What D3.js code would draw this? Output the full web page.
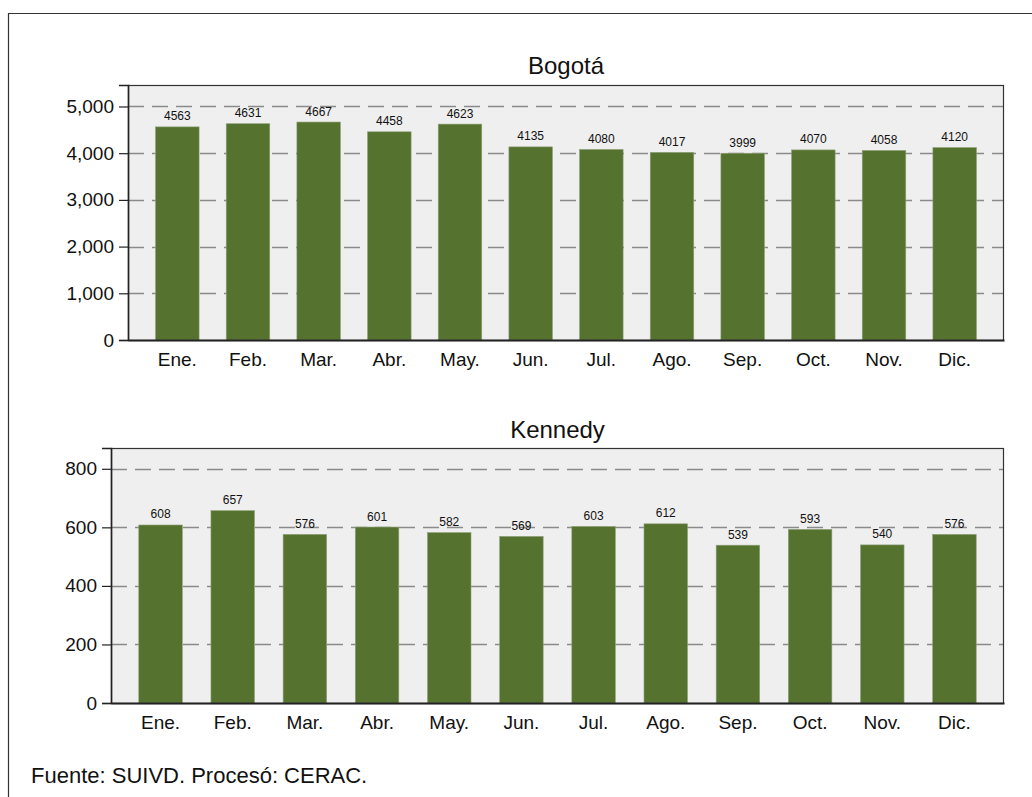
<!DOCTYPE html>
<html>
<head>
<meta charset="utf-8">
<script src="https://cdn.jsdelivr.net/npm/d3@7"></script>
<style>
  html, body { margin: 0; padding: 0; background: #fff; }
  svg { display: block; font-family: Arial, "Liberation Sans", sans-serif; }
</style>
</head>
<body>
<svg id="chart" width="1032" height="797"></svg>
<script>
// Monthly counts, Bogotá and Kennedy
const months = ["Ene.", "Feb.", "Mar.", "Abr.", "May.", "Jun.", "Jul.", "Ago.", "Sep.", "Oct.", "Nov.", "Dic."];
const bogotaValues = [4563, 4631, 4667, 4458, 4623, 4135, 4080, 4017, 3999, 4070, 4058, 4120];
const kennedyValues = [608, 657, 576, 601, 582, 569, 603, 612, 539, 593, 540, 576];
const bogotaTicks = [0, 1000, 2000, 3000, 4000, 5000];
const kennedyTicks = [0, 200, 400, 600, 800];
const titles = ["Bogotá", "Kennedy"];
const sourceNote = "Fuente: SUIVD. Procesó: CERAC.";

const svg = d3.select("#chart");
const barColor = "#55722f";
const fmt = d3.format(",");
const fontStack = "Arial, 'Liberation Sans', sans-serif";

// outer frame (extends past the page on the right and bottom)
svg.append("path")
  .attr("d", "M8.5,900 L8.5,13.5 L1100,13.5")
  .attr("fill", "none").attr("stroke", "#333").attr("stroke-width", 1.2);

function panel(cfg) {
  const g = svg.append("g");
  const x = d3.scaleBand().domain(months)
    .range([cfg.left, cfg.right]).paddingInner(cfg.pInner).paddingOuter(cfg.pOuter);
  const y = d3.scaleLinear().domain([0, cfg.yMax]).range([cfg.bottom, cfg.top]);

  // plot background
  g.append("rect")
    .attr("x", cfg.left).attr("y", cfg.top)
    .attr("width", cfg.right - cfg.left).attr("height", cfg.bottom - cfg.top)
    .attr("fill", "#efefef");

  // dashed gridlines
  g.selectAll("line.grid").data(cfg.ticks.filter(t => t > 0)).join("line")
    .attr("class", "grid")
    .attr("x1", cfg.left).attr("x2", cfg.right)
    .attr("y1", d => Math.round(y(d)) + 0.5).attr("y2", d => Math.round(y(d)) + 0.5)
    .attr("stroke", "#8a8a8a").attr("stroke-width", 1.4)
    .attr("stroke-dasharray", "16,8");

  // bars
  g.selectAll("rect.bar").data(cfg.values).join("rect")
    .attr("class", "bar")
    .attr("x", (d, i) => x(months[i]))
    .attr("width", x.bandwidth())
    .attr("y", d => y(d))
    .attr("height", d => cfg.bottom - y(d))
    .attr("fill", barColor)
    .attr("stroke", "#8fa077").attr("stroke-width", 0.6);

  // value labels
  g.selectAll("text.val").data(cfg.values).join("text")
    .attr("class", "val")
    .attr("x", (d, i) => x(months[i]) + x.bandwidth() / 2)
    .attr("y", d => y(d) - 6.5)
    .attr("text-anchor", "middle")
    .attr("font-size", 12).attr("fill", "#111")
    .text(d => d);

  // plot border
  g.append("rect")
    .attr("x", cfg.left + 0.5).attr("y", cfg.top + 0.5)
    .attr("width", cfg.right - cfg.left - 1).attr("height", cfg.bottom - cfg.top)
    .attr("fill", "none").attr("stroke", "#333").attr("stroke-width", 1.2);

  // y axis
  const yAxis = d3.axisLeft(y).tickValues(cfg.ticks).tickFormat(fmt)
    .tickSize(9).tickPadding(5);
  const ya = g.append("g").attr("transform", `translate(${cfg.left},0)`).call(yAxis);
  ya.select(".domain").attr("stroke", "#222").attr("stroke-width", 1.6);
  ya.selectAll(".tick line").attr("stroke", "#222").attr("stroke-width", 1.2);
  ya.selectAll(".tick text").attr("font-size", 19).attr("fill", "#111")
    .attr("font-family", fontStack);

  // x axis
  const xAxis = d3.axisBottom(x).tickSize(0).tickPadding(13);
  const xa = g.append("g").attr("transform", `translate(0,${cfg.bottom})`).call(xAxis);
  xa.select(".domain").attr("stroke", "#222").attr("stroke-width", 2);
  xa.selectAll(".tick text").attr("font-size", 19).attr("fill", "#111")
    .attr("font-family", fontStack);

  // title
  g.append("text")
    .attr("x", (cfg.left + cfg.right) / 2).attr("y", cfg.titleY)
    .attr("text-anchor", "middle").attr("font-size", 24).attr("fill", "#111")
    .text(cfg.title);
}

panel({
  values: bogotaValues, ticks: bogotaTicks, title: titles[0],
  left: 128, right: 1004, top: 85, bottom: 340, yMax: 5460,
  pInner: 0.384, pOuter: 0.39, titleY: 73.5
});

panel({
  values: kennedyValues, ticks: kennedyTicks, title: titles[1],
  left: 111, right: 1004, top: 448, bottom: 703, yMax: 871,
  pInner: 0.397, pOuter: 0.385, titleY: 438
});

// source note
svg.append("text")
  .attr("x", 31).attr("y", 783)
  .attr("font-size", 22).attr("fill", "#111")
  .text(sourceNote);
</script>
</body>
</html>
